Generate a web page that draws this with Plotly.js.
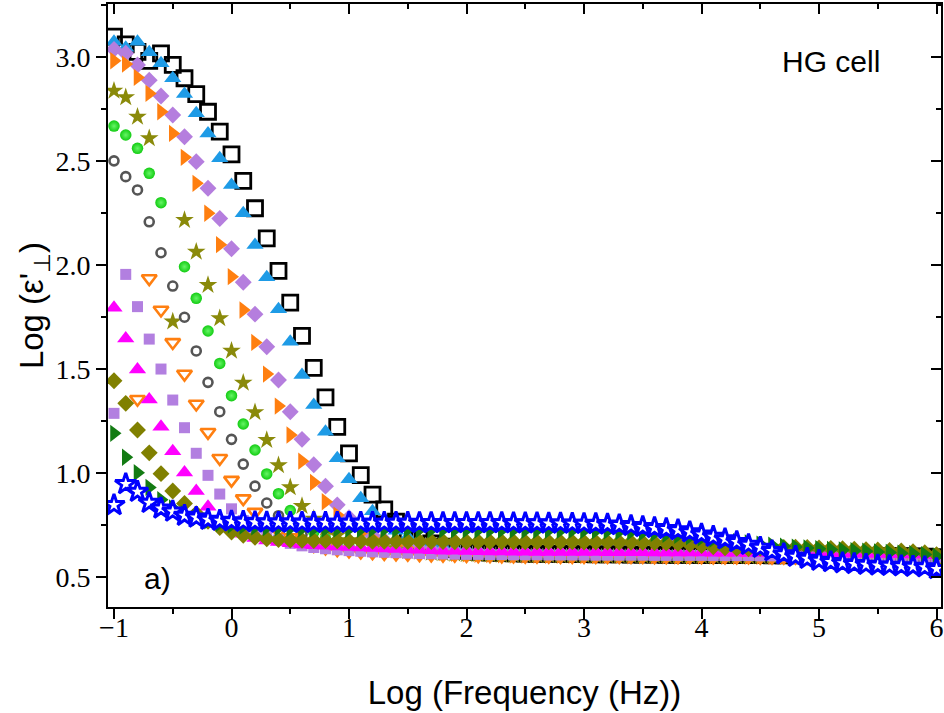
<!DOCTYPE html>
<html>
<head>
<meta charset="utf-8">
<script src="https://cdn.plot.ly/plotly-3.0.1.min.js"></script>
<style>html,body{margin:0;padding:0;background:#fff;}</style>
</head>
<body>
<div id="chart" style="width:944px;height:713px;"></div>
<script>
// log10 of frequency (Hz)
var logFreq = [-1.0,-0.9,-0.8,-0.7,-0.6,-0.5,-0.4,-0.3,-0.2,-0.1,
  0.0,0.1,0.2,0.3,0.4,0.5,0.6,0.7,0.8,0.9,
  1.0,1.1,1.2,1.3,1.4,1.5,1.6,1.7,1.8,1.9,
  2.0,2.1,2.2,2.3,2.4,2.5,2.6,2.7,2.8,2.9,
  3.0,3.1,3.2,3.3,3.4,3.5,3.6,3.7,3.8,3.9,
  4.0,4.1,4.2,4.3,4.4,4.5,4.6,4.7,4.8,4.9,
  5.0,5.1,5.2,5.3,5.4,5.5,5.6,5.7,5.8,5.9,6.0];

var blackSquares = [3.098,3.061,3.025,2.982,3.018,2.962,2.898,2.822,2.737,2.641,
  2.532,2.405,2.273,2.128,1.972,1.819,1.659,1.506,1.364,1.222,
  1.095,0.990,0.896,0.825,0.766,0.718,0.686,0.662,0.646,0.634,
  0.626,0.621,0.618,0.616,0.614,0.613,0.612,0.611,0.611,0.610,
  0.610,0.609,0.609,0.609,0.608,0.608,0.608,0.607,0.607,0.607,
  0.606,0.606,0.606,0.605,0.605,0.605,0.604,0.604,0.604,0.603,
  0.603,0.603,0.602,0.602,0.601,0.601,0.600,0.600,0.599,0.598,0.596];

var blueTriangles = [3.074,3.045,3.074,3.023,2.970,2.898,2.822,2.730,2.633,2.513,
  2.385,2.249,2.096,1.941,1.787,1.631,1.471,1.327,1.199,1.071,
  0.970,0.879,0.816,0.772,0.723,0.694,0.673,0.657,0.646,0.638,
  0.632,0.628,0.625,0.623,0.621,0.620,0.619,0.618,0.618,0.617,
  0.617,0.616,0.616,0.616,0.615,0.615,0.615,0.614,0.614,0.614,
  0.613,0.613,0.613,0.612,0.612,0.612,0.611,0.611,0.611,0.610,
  0.610,0.610,0.609,0.609,0.608,0.608,0.607,0.606,0.605,0.604,0.601];

var purpleDiamonds = [3.037,3.018,2.962,2.889,2.813,2.721,2.617,2.497,2.369,2.224,
  2.078,1.917,1.764,1.607,1.447,1.295,1.162,1.040,0.937,0.847,
  0.785,0.735,0.700,0.677,0.660,0.648,0.639,0.632,0.627,0.623,
  0.620,0.618,0.616,0.615,0.614,0.613,0.612,0.612,0.611,0.611,
  0.610,0.610,0.610,0.609,0.609,0.609,0.608,0.608,0.608,0.607,
  0.607,0.607,0.606,0.606,0.606,0.605,0.605,0.605,0.604,0.604,
  0.604,0.603,0.603,0.602,0.602,0.601,0.600,0.600,0.599,0.598,0.596];

var orangeRight = [2.982,2.966,2.902,2.825,2.737,2.633,2.518,2.393,2.249,2.098,
  1.944,1.784,1.628,1.476,1.322,1.183,1.057,0.955,0.862,0.798,
  0.750,0.712,0.685,0.665,0.650,0.639,0.630,0.623,0.618,0.614,
  0.611,0.609,0.608,0.607,0.606,0.605,0.605,0.604,0.604,0.604,
  0.603,0.603,0.603,0.603,0.602,0.602,0.602,0.602,0.601,0.601,
  0.601,0.601,0.600,0.600,0.600,0.600,0.599,0.599,0.599,0.599,
  0.598,0.598,0.598,0.597,0.597,0.596,0.596,0.595,0.595,0.594,0.592];

var oliveStars = [2.838,2.806,2.713,2.609,null,1.728,2.216,2.064,1.904,1.744,
  1.588,1.434,1.292,1.159,1.037,0.931,0.841,0.780,0.735,0.701,
  0.677,0.660,0.648,0.638,0.631,0.625,0.621,0.617,0.614,0.612,
  0.610,0.609,0.608,0.607,0.606,0.606,0.605,0.605,0.604,0.604,
  0.604,0.603,0.603,0.603,0.603,0.602,0.602,0.602,0.602,0.601,
  0.601,0.601,0.601,0.600,0.600,0.600,0.600,0.599,0.599,0.599,
  0.598,0.598,0.598,0.597,0.597,0.596,0.596,0.595,0.595,0.594,0.592];

var greenSpheres = [2.668,2.625,2.561,2.441,2.300,null,1.992,1.840,1.683,1.527,
  1.372,1.236,1.111,0.996,0.901,0.820,0.760,0.715,0.684,0.662,
  0.647,0.636,0.628,0.622,0.618,0.615,0.612,0.610,0.608,0.606,
  0.605,0.604,0.603,0.603,0.602,0.602,0.601,0.601,0.601,0.600,
  0.600,0.600,0.600,0.599,0.599,0.599,0.599,0.598,0.598,0.598,
  0.598,0.598,0.597,0.597,0.597,0.597,0.596,0.596,0.596,0.596,
  0.595,0.595,0.595,0.594,0.594,0.593,0.593,0.592,0.592,0.591,0.589];

var grayCircles = [2.501,2.425,2.361,2.208,2.059,1.899,1.749,1.587,1.436,1.295,
  1.162,1.043,0.937,0.856,0.795,0.745,0.705,0.678,0.660,0.647,
  0.638,0.632,0.627,0.623,0.620,0.618,0.616,0.614,0.613,0.612,
  0.611,0.610,0.610,0.609,0.609,0.609,0.608,0.608,0.608,0.608,
  0.607,0.607,0.607,0.607,0.606,0.606,0.606,0.606,0.606,0.605,
  0.605,0.605,0.605,0.604,0.604,0.604,0.604,0.604,0.603,0.603,
  0.603,0.602,0.602,0.602,0.601,0.601,0.600,0.600,0.599,0.598,0.596];

var orangeOpenDown = [null,null,1.355,1.935,1.784,1.628,1.476,1.332,1.196,1.071,
  0.966,0.877,0.812,0.760,0.720,0.690,0.668,0.652,0.640,0.632,
  0.626,0.621,0.617,0.614,0.612,0.610,0.608,0.607,0.606,0.605,
  0.604,0.603,0.603,0.602,0.602,0.601,0.601,0.601,0.600,0.600,
  0.600,0.600,0.599,0.599,0.599,0.599,0.598,0.598,0.598,0.598,
  0.598,0.597,0.597,0.597,0.597,0.596,0.596,0.596,0.596,0.595,
  0.595,0.595,0.594,0.594,0.593,0.593,0.592,0.592,0.591,0.590,0.588];

var purpleSquares = [1.287,1.955,1.800,1.644,1.500,1.351,1.218,1.095,0.989,0.899,
  0.828,0.772,0.730,0.700,0.678,0.662,0.650,0.642,0.636,0.631,
  0.627,0.624,0.621,0.619,0.617,0.615,0.613,0.612,0.611,0.610,
  0.609,0.609,0.608,0.608,0.607,0.607,0.607,0.606,0.606,0.606,
  0.606,0.605,0.605,0.605,0.605,0.605,0.604,0.604,0.604,0.604,
  0.604,0.603,0.603,0.603,0.603,0.602,0.602,0.602,0.602,0.601,
  0.601,0.601,0.600,0.600,0.600,0.599,0.599,0.598,0.598,0.597,0.595];

var magentaTriangles = [1.795,1.647,1.498,1.354,1.223,1.105,1.003,0.914,0.838,0.782,
  0.738,0.708,0.688,0.676,0.668,0.662,0.657,0.653,0.650,0.647,
  0.645,0.642,0.640,0.637,0.635,0.633,0.631,0.629,0.627,0.626,
  0.625,0.624,0.623,0.623,0.622,0.622,0.621,0.621,0.620,0.620,
  0.620,0.620,0.619,0.619,0.619,0.619,0.618,0.618,0.618,0.618,
  0.618,0.617,0.617,0.617,0.616,0.616,0.616,0.615,0.615,0.615,
  0.614,0.614,0.613,0.613,0.612,0.612,0.611,0.610,0.609,0.608,0.605];

var oliveDiamonds = [1.444,1.335,1.207,1.097,0.997,0.914,0.854,0.805,0.768,0.738,
  0.716,0.701,0.691,0.684,0.680,0.678,0.677,0.676,0.675,0.674,
  0.673,0.673,0.672,0.672,0.672,0.671,0.671,0.671,0.671,0.670,
  0.670,0.670,0.670,0.670,0.670,0.669,0.669,0.669,0.669,0.669,
  0.668,0.668,0.668,0.667,0.667,0.666,0.665,0.664,0.661,0.657,
  0.651,0.646,0.641,0.638,0.636,0.638,0.640,0.642,0.643,0.642,
  0.640,0.638,0.636,0.634,0.632,0.630,0.628,0.625,0.622,0.617,0.608];

var darkGreenRight = [1.191,1.076,1.002,0.931,0.872,0.832,0.805,0.785,0.770,0.758,
  0.750,0.745,0.741,0.738,0.736,0.734,0.733,0.732,0.731,0.730,
  0.730,0.729,0.729,0.729,0.728,0.728,0.728,0.727,0.727,0.727,
  0.727,0.726,0.726,0.726,0.726,0.725,0.725,0.725,0.724,0.724,
  0.723,0.722,0.721,0.719,0.717,0.714,0.710,0.705,0.700,0.694,
  0.688,0.682,0.676,0.670,0.664,0.658,0.653,0.648,0.644,0.640,
  0.636,0.633,0.630,0.627,0.624,0.621,0.618,0.615,0.612,0.608,0.600];

var blueStars = [0.846,0.947,0.910,0.857,0.830,0.815,0.795,0.786,0.776,0.771,
  0.768,0.766,0.764,0.763,0.762,0.762,0.761,0.761,0.761,0.761,
  0.761,0.761,0.761,0.761,0.761,0.761,0.760,0.760,0.760,0.760,
  0.760,0.760,0.760,0.760,0.759,0.759,0.759,0.758,0.758,0.757,
  0.756,0.755,0.753,0.750,0.746,0.741,0.736,0.731,0.725,0.716,
  0.705,0.694,0.682,0.669,0.655,0.641,0.625,0.610,0.598,0.588,
  0.579,0.572,0.567,0.563,0.559,0.556,0.554,0.552,0.550,0.547,0.539];

var xTickVals = [-1,0,1,2,3,4,5,6];
var xTickText = ['\u22121','0','1','2','3','4','5','6'];
var yTickVals = [0.5,1.0,1.5,2.0,2.5,3.0];
var yTickText = ['0.5','1.0','1.5','2.0','2.5','3.0'];

function series(y, symbol, size, color, lineColor, lineWidth, extra) {
  var m = {symbol: symbol, size: size, color: color,
           line: {color: lineColor || color, width: lineWidth || 0}};
  if (extra) { for (var k in extra) m[k] = extra[k]; }
  return {x: logFreq, y: y, type: 'scatter', mode: 'markers', marker: m,
          hoverinfo: 'x+y', cliponaxis: true};
}

var data = [
  series(blackSquares, 'square-open', 15, '#000000', '#000000', 2.8),
  series(blueTriangles, 'triangle-up', 15, '#1e9be6'),
  series(purpleDiamonds, 'diamond', 13, '#b57ede'),
  series(orangeRight, 'triangle-right', 15, '#ff7f10'),
  series(oliveStars, 'star', 14, '#8a8a0a'),
  series(greenSpheres, 'circle', 11.5, '#12cc12', null, 0, {gradient: {type: 'radial', color: '#66f566'}}),
  series(grayCircles, 'circle-open', 9, '#555555', '#555555', 2.6),
  series(orangeOpenDown, 'triangle-down-open', 13, '#ff7f10', '#ff7f10', 2.6),
  series(purpleSquares, 'square', 11, '#b27fe0'),
  series(magentaTriangles, 'triangle-up', 15, '#ff00ff'),
  series(oliveDiamonds, 'diamond', 13, '#808000'),
  series(darkGreenRight, 'triangle-right', 15, '#137b13'),
  series(blueStars, 'star', 16, '#ffffff', '#0000ff', 3),
  {x: [], y: [], xaxis: 'x2', yaxis: 'y2', type: 'scatter', mode: 'markers', hoverinfo: 'skip', showlegend: false}
];

var xr = [-1.051, 6.038];
var yr = [0.356, 3.255];
var tickFont = {family: 'Liberation Serif, Times New Roman, serif', size: 28, color: '#000'};
var titleFont = {family: 'Liberation Sans, Arial, sans-serif', size: 33, color: '#000'};

var layout = {
  width: 944, height: 713,
  margin: {l: 108, r: 3, t: 4, b: 106, pad: 0},
  paper_bgcolor: '#ffffff', plot_bgcolor: '#ffffff',
  showlegend: false,
  xaxis: {
    range: xr, autorange: false, showgrid: false, zeroline: false,
    showline: true, linewidth: 2, linecolor: '#000', mirror: true,
    ticks: 'outside', ticklen: 10, tickwidth: 2, tickcolor: '#000',
    tickmode: 'array', tickvals: xTickVals, ticktext: xTickText,
    tickfont: tickFont, ticklabelstandoff: -16,
    minor: {ticks: 'outside', ticklen: 5, tickwidth: 2, tickcolor: '#000', dtick: 0.5, tick0: 0, showgrid: false},
    title: {text: 'Log (Frequency (Hz))', font: titleFont, standoff: 39}
  },
  yaxis: {
    range: yr, autorange: false, showgrid: false, zeroline: false,
    showline: true, linewidth: 2, linecolor: '#000', mirror: true,
    ticks: 'outside', ticklen: 10, tickwidth: 2, tickcolor: '#000',
    tickmode: 'array', tickvals: yTickVals, ticktext: yTickText,
    tickfont: tickFont,
    minor: {ticks: 'outside', ticklen: 5, tickwidth: 2, tickcolor: '#000', dtick: 0.25, tick0: 0, showgrid: false},
    title: {text: "Log (\u03b5'<sub>\u22a5</sub>)", font: titleFont, standoff: 1}
  },
  xaxis2: {
    overlaying: 'x', side: 'top', anchor: 'y2', range: xr, autorange: false,
    showgrid: false, zeroline: false, showline: false, showticklabels: false,
    ticks: 'inside', ticklen: 10, tickwidth: 2, tickcolor: '#000',
    tickmode: 'array', tickvals: xTickVals,
    minor: {ticks: 'inside', ticklen: 5, tickwidth: 2, tickcolor: '#000', dtick: 0.5, tick0: 0, showgrid: false}
  },
  yaxis2: {
    overlaying: 'y', side: 'right', anchor: 'x2', range: yr, autorange: false,
    showgrid: false, zeroline: false, showline: false, showticklabels: false,
    ticks: 'inside', ticklen: 10, tickwidth: 2, tickcolor: '#000',
    tickmode: 'array', tickvals: yTickVals,
    minor: {ticks: 'inside', ticklen: 5, tickwidth: 2, tickcolor: '#000', dtick: 0.25, tick0: 0, showgrid: false}
  },
  annotations: [
    {text: 'HG cell', xref: 'paper', yref: 'paper', x: 0.868, y: 0.904, xanchor: 'center', yanchor: 'middle',
     showarrow: false, font: {family: 'Liberation Sans, Arial, sans-serif', size: 30, color: '#000'}},
    {text: 'a)', xref: 'paper', yref: 'paper', x: 0.060, y: 0.048, xanchor: 'center', yanchor: 'middle',
     showarrow: false, font: {family: 'Liberation Sans, Arial, sans-serif', size: 30, color: '#000'}}
  ]
};

Plotly.newPlot('chart', data, layout, {displayModeBar: false, staticPlot: true});
</script>
</body>
</html>
